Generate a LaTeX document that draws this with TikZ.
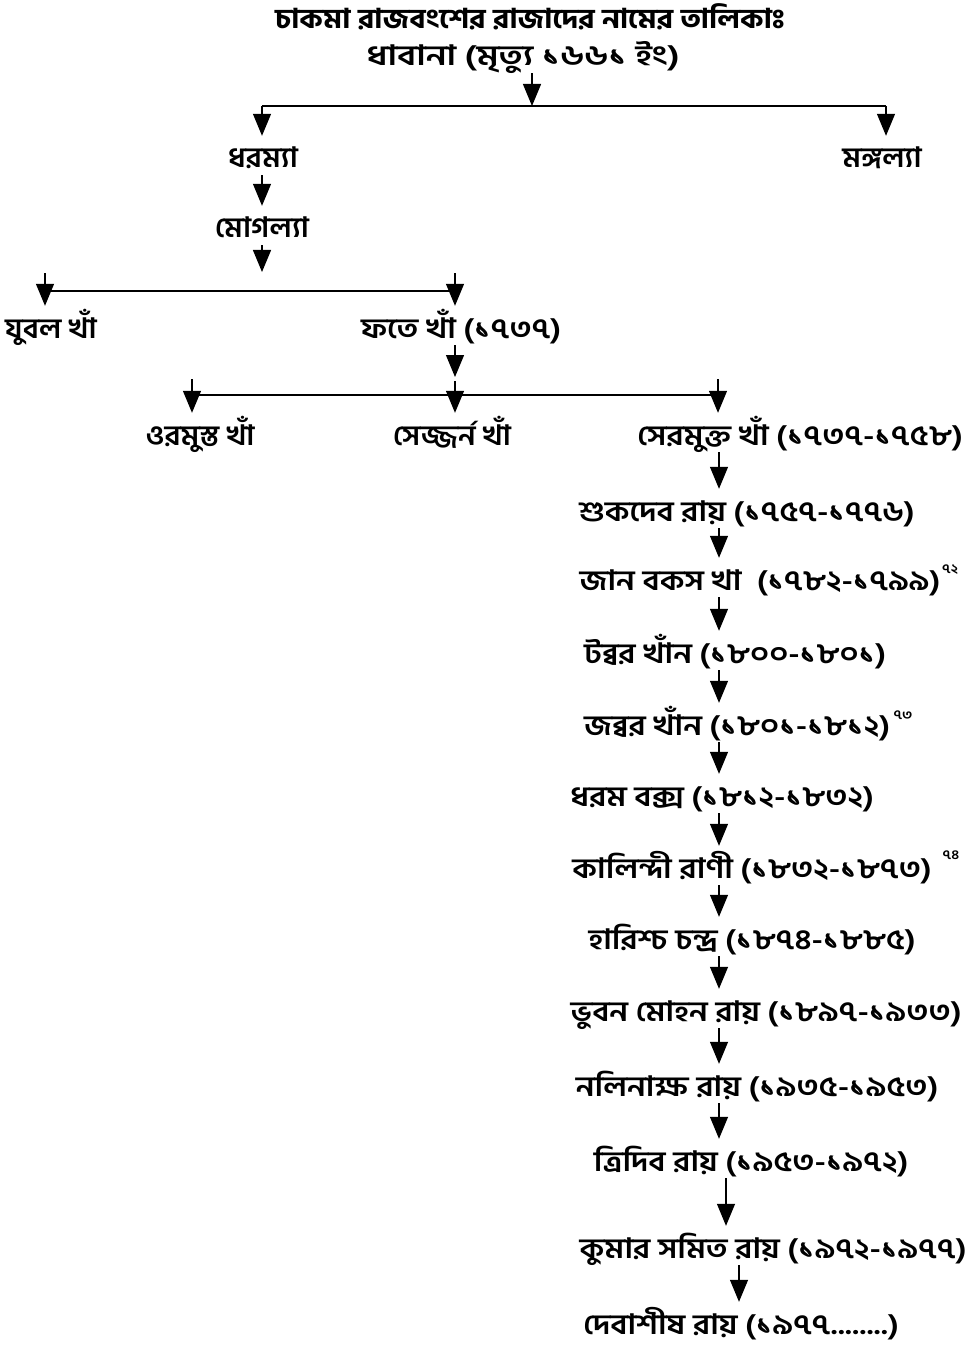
\documentclass[tikz,border=0pt]{standalone}
\usepackage{fontspec}
\usetikzlibrary{arrows.meta,calc}
\newfontfamily\bn[Script=Bengali,FakeStretch=1.15]{Hind Siliguri SemiBold}
\newfontfamily\bnt[Script=Bengali,FakeStretch=1.12]{Hind Siliguri Bold}
\newfontfamily\bnw[Script=Bengali,FakeStretch=1.28]{Hind Siliguri SemiBold}
\newfontfamily\bnn[Script=Bengali,FakeStretch=1.08]{Hind Siliguri SemiBold}
\tikzset{
  lbl/.style={anchor=base, inner sep=0pt, text height=32pt, text depth=7pt,
    font=\bn\fontsize{28}{32}\selectfont},
  nm/.style={lbl, font=\bnn\fontsize{28}{32}\selectfont},
  sup/.style={anchor=center, inner sep=0pt, font=\bn\fontsize{13}{15}\selectfont},
  arr/.style={line width=1.3pt, -{Triangle[width=18pt,length=22pt]}},
  bar/.style={line width=1.8pt}
}
\begin{document}
\begin{tikzpicture}[x=1pt,y=-1pt]
\path[use as bounding box] (0,0) rectangle (969,1348);
% titles
\node[lbl, font=\bnt\fontsize{27}{31}\selectfont] (title) at (530,29) {চাকমা রাজবংশের রাজাদের নামের তালিকাঃ};
\node[lbl, font=\bnw\fontsize{28}{32}\selectfont] (dhabana) at (523,66) {ধাবানা (মৃত্যু ১৬৬১ ইং)};
% level 1
\node[nm] (dharmya) at (263,168) {ধরম্যা};
\node[nm] (mangalya) at (882,168) {মঙ্গল্যা};
\node[nm] (mogalya) at (262,238) {মোগল্যা};
% level 2
\node[nm] (jubal) at (51,338) {যুবল খাঁ};
\node[lbl] (fate) at (461,338) {ফতে খাঁ (১৭৩৭)};
% level 3
\node[nm] (ormust) at (200,445) {ওরমুস্ত খাঁ};
\node[nm] (serjan) at (452,445) {সেজ্জর্ন খাঁ};
\node[lbl] (sermukta) at (800,445) {সেরমুক্ত খাঁ (১৭৩৭-১৭৫৮)};
% chain
\node[lbl] (shukdeb) at (747,521) {শুকদেব রায় (১৭৫৭-১৭৭৬)};
\node[lbl] (jan) at (760,590) {জান বকস খা\ \ (১৭৮২-১৭৯৯)};
\node[sup] (s72) at (950,570) {৭২};
\node[lbl] (tabbar) at (735,663) {টব্বর খাঁন (১৮০০-১৮০১)};
\node[lbl] (jabbar) at (737,735) {জব্বর খাঁন (১৮০১-১৮১২)};
\node[sup] (s73) at (903,715) {৭৩};
\node[lbl] (dharam) at (722,806) {ধরম বক্স (১৮১২-১৮৩২)};
\node[lbl] (kalindi) at (752,878) {কালিন্দী রাণী (১৮৩২-১৮৭৩)};
\node[sup] (s74) at (951,855) {৭৪};
\node[lbl] (harish) at (752,949) {হারিশ্চ চন্দ্র (১৮৭৪-১৮৮৫)};
\node[lbl] (bhuban) at (766,1021) {ভুবন মোহন রায় (১৮৯৭-১৯৩৩)};
\node[lbl] (nalin) at (757,1096) {নলিনাক্ষ রায় (১৯৩৫-১৯৫৩)};
\node[lbl] (tridib) at (751,1171) {ত্রিদিব রায় (১৯৫৩-১৯৭২)};
\node[lbl] (kumar) at (773,1258) {কুমার সমিত রায় (১৯৭২-১৯৭৭)};
\node[lbl] (debashish) at (741,1334) {দেবাশীষ রায় (১৯৭৭........)};
% coordinates
\coordinate (b1L) at (262,106);
\coordinate (b1M) at (532,106);
\coordinate (b1R) at (886,106);
\coordinate (m2tip) at (262,272);
\coordinate (b2L) at (45,291);
\coordinate (b2R) at (455,291);
\coordinate (b2Lt) at (45,273);
\coordinate (b2Rt) at (455,273);
\coordinate (f3tip) at (455,377);
\coordinate (b3L) at (192,395);
\coordinate (b3R) at (718,395);
\coordinate (b3Lt) at (192,379);
\coordinate (b3Mt) at (455,381);
\coordinate (b3Rt) at (718,379);
\coordinate (c1) at (719,0);
\coordinate (c2) at (726,0);
\coordinate (c3) at (739,0);
% tree 1
\draw[arr] (dhabana.south -| b1M) -- (b1M);
\draw[bar] (b1L) -- (b1R);
\draw[arr] (b1L) -- (dharmya.north -| b1L);
\draw[arr] (b1R) -- (mangalya.north -| b1R);
\draw[arr] (dharmya.south -| b1L) -- (mogalya.north -| b1L);
\draw[arr] (mogalya.south -| m2tip) -- (m2tip);
% tree 2
\draw[bar] (b2L) -- (b2R);
\draw[arr] (b2Lt) -- (jubal.north -| b2Lt);
\draw[arr] (b2Rt) -- (fate.north -| b2Rt);
\draw[arr] (fate.south -| f3tip) -- (f3tip);
% tree 3
\draw[bar] (b3L) -- (b3R);
\draw[arr] (b3Lt) -- (ormust.north -| b3Lt);
\draw[arr] (b3Mt) -- (serjan.north -| b3Mt);
\draw[arr] (b3Rt) -- (sermukta.north -| b3Rt);
% chain
\draw[arr] (sermukta.south -| c1) -- (shukdeb.north -| c1);
\draw[arr] (shukdeb.south -| c1) -- (jan.north -| c1);
\draw[arr] (jan.south -| c1) -- (tabbar.north -| c1);
\draw[arr] (tabbar.south -| c1) -- (jabbar.north -| c1);
\draw[arr] (jabbar.south -| c1) -- (dharam.north -| c1);
\draw[arr] (dharam.south -| c1) -- (kalindi.north -| c1);
\draw[arr] (kalindi.south -| c1) -- (harish.north -| c1);
\draw[arr] (harish.south -| c1) -- (bhuban.north -| c1);
\draw[arr] (bhuban.south -| c1) -- (nalin.north -| c1);
\draw[arr] (nalin.south -| c1) -- (tridib.north -| c1);
\draw[arr] (tridib.south -| c2) -- (kumar.north -| c2);
\draw[arr] (kumar.south -| c3) -- (debashish.north -| c3);
\end{tikzpicture}
\end{document}
